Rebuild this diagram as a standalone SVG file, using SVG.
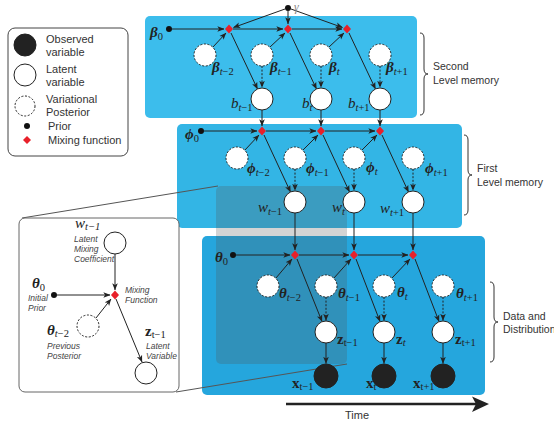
<svg xmlns="http://www.w3.org/2000/svg" width="554" height="423" viewBox="0 0 554 423">
<defs>
<marker id="ah" viewBox="0 0 10 10" refX="9.5" refY="5" markerWidth="7" markerHeight="7" markerUnits="userSpaceOnUse" orient="auto"><path d="M0,1 L10,5 L0,9 L2.5,5 z" fill="#222"/></marker>
<style>
.panel{stroke:none}
.ln{stroke:#222;stroke-width:1;fill:none;marker-end:url(#ah)}
.dot{stroke:#222;stroke-width:1;fill:none;stroke-dasharray:2,1.6;marker-end:url(#ah)}
.lat{fill:#fff;stroke:#222;stroke-width:1}
.var{fill:#fff;stroke:#222;stroke-width:1;stroke-dasharray:2,1.6}
.obs{fill:#222;stroke:#222}
.pri{fill:#111}
.mix{fill:#e8202a}
.m{font-family:"Liberation Serif","DejaVu Serif",serif;font-size:15px;fill:#222}
.gb{font-weight:bold;font-style:italic}
.it{font-style:italic}
.bf{font-weight:bold}
.sub{font-size:10.5px;font-weight:normal}
.t{font-family:"Liberation Sans","DejaVu Sans",sans-serif;font-size:11px;fill:#333}
.tr{font-family:"Liberation Sans","DejaVu Sans",sans-serif;font-size:10.5px;fill:#333}
.ti{font-family:"Liberation Sans","DejaVu Sans",sans-serif;font-size:8.5px;fill:#444;font-style:italic}
.br{fill:none;stroke:#333;stroke-width:1}
</style>
</defs>

<g id="panels">
<rect class="panel" x="145" y="16" width="272" height="102" rx="5" fill="#3cbdec"/>
<rect class="panel" x="177" y="124" width="285" height="104" rx="5" fill="#33b5e5"/>
<rect class="panel" x="202" y="236" width="283" height="159" rx="5" fill="#25a6dd"/>
<rect x="216" y="186" width="131" height="178" rx="5" fill="#555" fill-opacity="0.25"/>
</g>

<g id="callout">
<line x1="22" y1="218" x2="218" y2="186" stroke="#555" stroke-width="1"/>
<line x1="176" y1="392" x2="347" y2="364" stroke="#555" stroke-width="1"/>
</g>

<g id="legend">
<rect x="8" y="28" width="120" height="128" rx="7" fill="#fff" stroke="#444" stroke-width="1"/>
<circle class="obs" cx="25" cy="45" r="11"/>
<circle class="lat" cx="25" cy="75" r="11"/>
<circle class="var" cx="25" cy="106" r="10"/>
<circle class="pri" cx="27" cy="126" r="3"/>
<polygon class="mix" points="27,136 31,140 27,144 23,140"/>
<text class="t" x="46" y="43">Observed</text>
<text class="t" x="46" y="56">variable</text>
<text class="t" x="46" y="73">Latent</text>
<text class="t" x="46" y="86">variable</text>
<text class="t" x="46" y="103">Variational</text>
<text class="t" x="46" y="116">Posterior</text>
<text class="t" x="48" y="130">Prior</text>
<text class="t" x="48" y="144">Mixing function</text>
</g>

<g id="inset">
<rect x="19" y="218" width="160" height="174" rx="6" fill="#fff" stroke="#666" stroke-width="1"/>
<line class="ln" x1="115" y1="254" x2="115" y2="290"/>
<line class="ln" x1="57" y1="295" x2="110" y2="295"/>
<line class="ln" x1="96" y1="318" x2="111" y2="299"/>
<line class="ln" x1="116" y1="299" x2="142" y2="362"/>
<circle class="lat" cx="115" cy="243" r="11"/>
<circle class="pri" cx="54" cy="295" r="3"/>
<polygon class="mix" points="115,290.5 119,295 115,299.5 111,295"/>
<circle class="var" cx="88" cy="326" r="11"/>
<circle class="lat" cx="146" cy="373" r="11"/>
<text class="m it" x="75" y="228">w<tspan class="sub" dy="2">t−1</tspan></text>
<text class="ti" x="74" y="242">Latent</text>
<text class="ti" x="74" y="252">Mixing</text>
<text class="ti" x="74" y="262">Coefficient</text>
<text class="m gb" x="32" y="288">θ<tspan class="sub" font-style="normal" dy="3">0</tspan></text>
<text class="ti" x="28" y="301">Initial</text>
<text class="ti" x="28" y="311">Prior</text>
<text class="ti" x="125" y="293">Mixing</text>
<text class="ti" x="125" y="303">Function</text>
<text class="m gb" x="47" y="335">θ<tspan class="sub" dy="2">t<tspan font-style="normal">−2</tspan></tspan></text>
<text class="ti" x="47" y="349">Previous</text>
<text class="ti" x="47" y="359">Posterior</text>
<text class="m bf" x="145" y="336">z<tspan class="sub" dy="2">t<tspan font-style="normal">−1</tspan></tspan></text>
<text class="ti" x="146" y="349">Latent</text>
<text class="ti" x="146" y="359">Variable</text>
</g>

<g id="connectors">
<line class="ln" x1="285" y1="9" x2="233.5" y2="27.5"/>
<line class="ln" x1="288" y1="11" x2="288" y2="24"/>
<line class="ln" x1="291" y1="9" x2="342.5" y2="27.5"/>
<line class="ln" x1="172" y1="29" x2="224" y2="29"/>
<line class="ln" x1="233" y1="29" x2="283" y2="29"/>
<line class="ln" x1="292" y1="29" x2="342" y2="29"/>
<line class="ln" x1="213" y1="47" x2="226" y2="33"/>
<line class="ln" x1="270" y1="47" x2="285" y2="33"/>
<line class="ln" x1="329" y1="47" x2="344" y2="33"/>
<line class="ln" x1="231" y1="33" x2="257.5" y2="89"/>
<line class="ln" x1="290" y1="33" x2="316.5" y2="89"/>
<line class="ln" x1="349" y1="33" x2="375.5" y2="89"/>
<line class="dot" x1="262" y1="66" x2="262" y2="87.5"/>
<line class="dot" x1="321" y1="66" x2="321" y2="87.5"/>
<line class="dot" x1="380" y1="66" x2="380" y2="87.5"/>
<line class="ln" x1="262" y1="110" x2="262" y2="126"/>
<line class="ln" x1="321" y1="110" x2="321" y2="126"/>
<line class="ln" x1="380" y1="110" x2="380" y2="126"/>
<line class="ln" x1="204" y1="131" x2="257" y2="131"/>
<line class="ln" x1="266" y1="131" x2="316" y2="131"/>
<line class="ln" x1="325" y1="131" x2="375" y2="131"/>
<line class="ln" x1="245" y1="150" x2="259" y2="135"/>
<line class="ln" x1="303" y1="150" x2="318" y2="135"/>
<line class="ln" x1="362" y1="150" x2="377" y2="135"/>
<line class="ln" x1="264" y1="135" x2="290.5" y2="192"/>
<line class="ln" x1="323" y1="135" x2="349.5" y2="192"/>
<line class="ln" x1="382" y1="135" x2="408.5" y2="192"/>
<line class="dot" x1="295" y1="169" x2="295" y2="190.5"/>
<line class="dot" x1="354" y1="169" x2="354" y2="190.5"/>
<line class="dot" x1="413" y1="169" x2="413" y2="190.5"/>
<line class="ln" x1="295" y1="213" x2="295" y2="250"/>
<line class="ln" x1="354" y1="213" x2="354" y2="250"/>
<line class="ln" x1="413" y1="213" x2="413" y2="250"/>
<line class="ln" x1="236" y1="255" x2="290" y2="255"/>
<line class="ln" x1="299" y1="255" x2="349" y2="255"/>
<line class="ln" x1="358" y1="255" x2="408" y2="255"/>
<line class="ln" x1="276" y1="278" x2="292" y2="259"/>
<line class="ln" x1="334" y1="278" x2="351" y2="259"/>
<line class="ln" x1="392" y1="278" x2="410" y2="259"/>
<line class="ln" x1="297" y1="259" x2="322" y2="321.5"/>
<line class="ln" x1="356" y1="259" x2="380" y2="321.5"/>
<line class="ln" x1="415" y1="259" x2="439" y2="321.5"/>
<line class="dot" x1="326" y1="297" x2="326" y2="320.5"/>
<line class="dot" x1="384" y1="297" x2="384" y2="320.5"/>
<line class="dot" x1="443" y1="297" x2="443" y2="320.5"/>
<line class="ln" x1="326" y1="343" x2="326" y2="363.5"/>
<line class="ln" x1="384" y1="343" x2="384" y2="363.5"/>
<line class="ln" x1="443" y1="343" x2="443" y2="363.5"/>
</g>

<g id="top-nodes">
<g id="gamma"><circle class="pri" cx="288" cy="8" r="3"/><text class="m it" x="294" y="11" style="fill:#888;font-size:12px">γ</text></g>
<g id="beta0"><circle class="pri" cx="169" cy="29" r="3"/><text class="m gb" x="150" y="37">β<tspan class="sub" font-style="normal" dy="3">0</tspan></text></g>
<g id="mix-b1"><polygon class="mix" points="229,24.5 233,29 229,33.5 225,29"/></g>
<g id="mix-b2"><polygon class="mix" points="288,24.5 292,29 288,33.5 284,29"/></g>
<g id="mix-b3"><polygon class="mix" points="347,24.5 351,29 347,33.5 343,29"/></g>
<g id="beta-tm2"><circle class="var" cx="205" cy="55" r="11"/><text class="m gb" x="212" y="72">β<tspan class="sub" dy="3">t<tspan font-style="normal">−2</tspan></tspan></text></g>
<g id="beta-tm1"><circle class="var" cx="262" cy="55" r="11"/><text class="m gb" x="270" y="72">β<tspan class="sub" dy="3">t<tspan font-style="normal">−1</tspan></tspan></text></g>
<g id="beta-t"><circle class="var" cx="321" cy="55" r="11"/><text class="m gb" x="329" y="72">β<tspan class="sub" dy="3">t</tspan></text></g>
<g id="beta-tp1"><circle class="var" cx="380" cy="55" r="11"/><text class="m gb" x="386" y="72">β<tspan class="sub" dy="3">t<tspan font-style="normal">+1</tspan></tspan></text></g>
<g id="b-tm1"><circle class="lat" cx="262" cy="99" r="11"/><text class="m it" x="231" y="108">b<tspan class="sub" dy="3">t<tspan font-style="normal">−1</tspan></tspan></text></g>
<g id="b-t"><circle class="lat" cx="321" cy="99" r="11"/><text class="m it" x="302" y="108">b<tspan class="sub" dy="3">t</tspan></text></g>
<g id="b-tp1"><circle class="lat" cx="380" cy="99" r="11"/><text class="m it" x="348" y="108">b<tspan class="sub" dy="3">t<tspan font-style="normal">+1</tspan></tspan></text></g>
</g>

<g id="mid-nodes">
<g id="phi0"><circle class="pri" cx="201" cy="131" r="3"/><text class="m gb" x="185" y="139">ϕ<tspan class="sub" font-style="normal" dy="3">0</tspan></text></g>
<g id="mix-p1"><polygon class="mix" points="262,126.5 266,131 262,135.5 258,131"/></g>
<g id="mix-p2"><polygon class="mix" points="321,126.5 325,131 321,135.5 317,131"/></g>
<g id="mix-p3"><polygon class="mix" points="380,126.5 384,131 380,135.5 376,131"/></g>
<g id="phi-tm2"><circle class="var" cx="237" cy="158" r="11"/><text class="m gb" x="247" y="173">ϕ<tspan class="sub" dy="3">t<tspan font-style="normal">−2</tspan></tspan></text></g>
<g id="phi-tm1"><circle class="var" cx="295" cy="158" r="11"/><text class="m gb" x="306" y="173">ϕ<tspan class="sub" dy="3">t<tspan font-style="normal">−1</tspan></tspan></text></g>
<g id="phi-t"><circle class="var" cx="354" cy="158" r="11"/><text class="m gb" x="366" y="172">ϕ<tspan class="sub" dy="3">t</tspan></text></g>
<g id="phi-tp1"><circle class="var" cx="413" cy="158" r="11"/><text class="m gb" x="425" y="173">ϕ<tspan class="sub" dy="3">t<tspan font-style="normal">+1</tspan></tspan></text></g>
<g id="w-tm1"><circle class="lat" cx="295" cy="202" r="11"/><text class="m it" x="258" y="212">w<tspan class="sub" dy="3">t<tspan font-style="normal">−1</tspan></tspan></text></g>
<g id="w-t"><circle class="lat" cx="354" cy="202" r="11"/><text class="m it" x="332" y="212">w<tspan class="sub" dy="3">t</tspan></text></g>
<g id="w-tp1"><circle class="lat" cx="413" cy="202" r="11"/><text class="m it" x="380" y="213">w<tspan class="sub" dy="3">t<tspan font-style="normal">+1</tspan></tspan></text></g>
</g>

<g id="data-nodes">
<g id="theta0"><circle class="pri" cx="233" cy="255" r="3"/><text class="m gb" x="215" y="262">θ<tspan class="sub" font-style="normal" dy="3">0</tspan></text></g>
<g id="mix-t1"><polygon class="mix" points="295,250.5 299,255 295,259.5 291,255"/></g>
<g id="mix-t2"><polygon class="mix" points="354,250.5 358,255 354,259.5 350,255"/></g>
<g id="mix-t3"><polygon class="mix" points="413,250.5 417,255 413,259.5 409,255"/></g>
<g id="theta-tm2"><circle class="var" cx="268" cy="286" r="11"/><text class="m gb" x="279" y="298">θ<tspan class="sub" dy="3">t<tspan font-style="normal">−2</tspan></tspan></text></g>
<g id="theta-tm1"><circle class="var" cx="326" cy="286" r="11"/><text class="m gb" x="338" y="298">θ<tspan class="sub" dy="3">t<tspan font-style="normal">−1</tspan></tspan></text></g>
<g id="theta-t"><circle class="var" cx="384" cy="286" r="11"/><text class="m gb" x="397" y="297">θ<tspan class="sub" dy="3">t</tspan></text></g>
<g id="theta-tp1"><circle class="var" cx="443" cy="286" r="11"/><text class="m gb" x="456" y="298">θ<tspan class="sub" dy="3">t<tspan font-style="normal">+1</tspan></tspan></text></g>
<g id="z-tm1"><circle class="lat" cx="326" cy="332" r="11"/><text class="m bf" x="337" y="344">z<tspan class="sub" dy="2">t<tspan font-style="normal">−1</tspan></tspan></text></g>
<g id="z-t"><circle class="lat" cx="384" cy="332" r="11"/><text class="m bf" x="396" y="344">z<tspan class="sub" dy="2" font-style="italic">t</tspan></text></g>
<g id="z-tp1"><circle class="lat" cx="443" cy="332" r="11"/><text class="m bf" x="455" y="344">z<tspan class="sub" dy="2">t<tspan font-style="normal">+1</tspan></tspan></text></g>
<g id="x-tm1"><circle class="obs" cx="326" cy="376" r="12"/><text class="m bf" x="292" y="388">x<tspan class="sub" dy="2">t<tspan font-style="normal">−1</tspan></tspan></text></g>
<g id="x-t"><circle class="obs" cx="384" cy="376" r="12"/><text class="m bf" x="366" y="388">x<tspan class="sub" dy="2">t</tspan></text></g>
<g id="x-tp1"><circle class="obs" cx="443" cy="376" r="12"/><text class="m bf" x="413" y="388">x<tspan class="sub" dy="2">t<tspan font-style="normal">+1</tspan></tspan></text></g>
</g>

<g id="levels">
<path class="br" d="M420,33 Q424,33 424,38 L424,69 Q424,74 428,74 Q424,74 424,79 L424,110 Q424,115 420,115"/>
<text class="tr" x="433" y="70">Second</text>
<text class="tr" x="433" y="84">Level memory</text>
<path class="br" d="M464,135 Q468,135 468,140 L468,170 Q468,175 472,175 Q468,175 468,180 L468,210 Q468,215 464,215"/>
<text class="tr" x="477" y="172">First</text>
<text class="tr" x="477" y="186">Level memory</text>
<path class="br" d="M490,282 Q494,282 494,287 L494,317 Q494,322 498,322 Q494,322 494,327 L494,357 Q494,362 490,362"/>
<text class="tr" x="503" y="320">Data and</text>
<text class="tr" x="503" y="333">Distribution</text>
</g>

<g id="time">
<line x1="286" y1="404" x2="478" y2="404" stroke="#222" stroke-width="2.5"/>
<polygon points="472,396.5 489,404 472,412 476,404" fill="#222"/>
<text class="t" x="357" y="419" text-anchor="middle">Time</text>
</g>
</svg>
